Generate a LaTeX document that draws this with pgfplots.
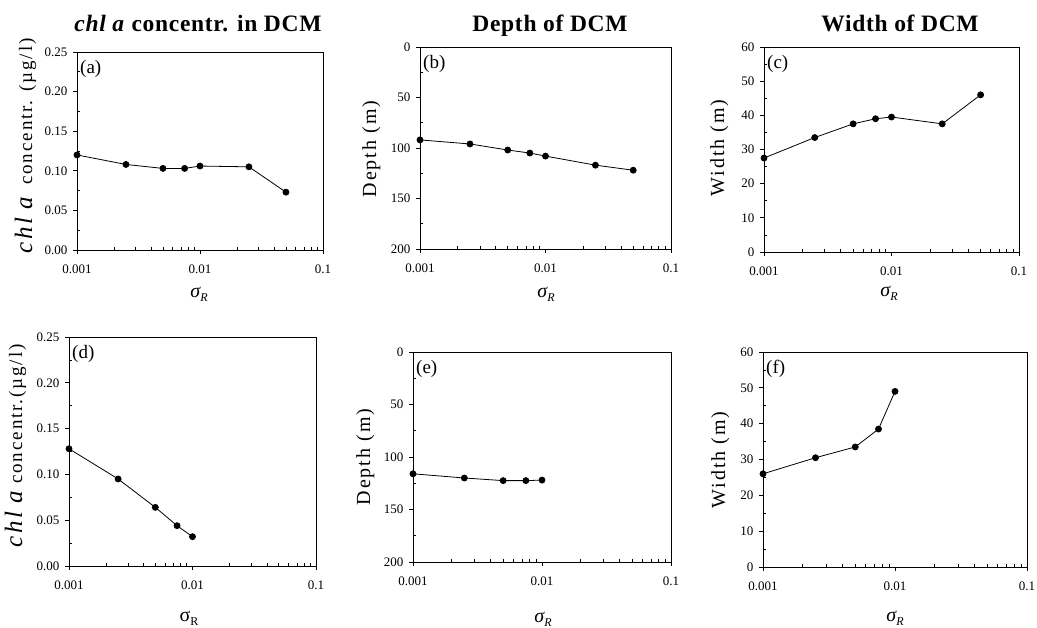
\documentclass[border=0pt]{standalone}
\usepackage{fontspec}
\setmainfont{Liberation Serif}
\newfontfamily\labfont[LetterSpace=10]{Liberation Serif}
\newfontfamily\titfont[LetterSpace=3]{Liberation Serif}
\usepackage{pgfplots}
\pgfplotsset{compat=1.18}
\pgfplotsset{every axis/.append style={
    scale only axis, anchor=south west,
    xmin=0.001, xmax=0.1,
    xtick={0.001,0.01,0.1}, xticklabels={0.001,0.01,0.1},
    minor xtick={0.002,0.003,0.004,0.005,0.006,0.007,0.008,0.009,0.02,0.03,0.04,0.05,0.06,0.07,0.08,0.09},
    tick align=outside, xtick pos=bottom, ytick pos=left,
    major tick length=4pt, minor tick length=-3pt,
    tick label style={font=\fontsize{13}{15}\selectfont},
    xticklabel style={yshift=-7pt},
    yticklabel style={xshift=-2pt},
    axis line style={line width=0.9pt, black},
    tick style={line width=0.7pt, black},
    clip=false,
    /pgf/number format/assume math mode=true,
  }}
\newcommand{\rminor}[5]{%
\begin{axis}[at={#1}, width=#2, height=#3, #4, hide x axis, axis line style={draw=none},
  /pgf/number format/assume math mode=false,
  ytick pos=right, tick align=inside, major tick length=0pt, minor tick length=3pt,
  ytick=\empty, minor ytick={#5}]
\end{axis}}
\newcommand{\sigR}{{\fontsize{20}{22}\selectfont\itshape σ}\raisebox{-4pt}{\fontsize{12}{14}\selectfont\itshape R}}
\newcommand{\sigRup}{{\fontsize{20}{22}\selectfont σ}\raisebox{-4pt}{\fontsize{12}{14}\selectfont R}}
\begin{document}
\begin{tikzpicture}
\useasboundingbox (0,0) rectangle (1037pt,628pt);
% ---- titles
\node[anchor=base, font=\fontsize{23.5}{26}\selectfont\titfont\bfseries] at (198pt,596pt) {\textit{chl a} concentr. in DCM};
\node[anchor=base, font=\fontsize{23.5}{26}\selectfont\titfont\bfseries] at (550pt,596pt) {Depth of DCM};
\node[anchor=base, font=\fontsize{23.5}{26}\selectfont\titfont\bfseries] at (900pt,596pt) {Width of DCM};

% ---- (a)
\begin{semilogxaxis}[at={(77pt,378pt)}, width=246pt, height=198pt,
  ymin=0, ymax=0.25, ytick={0,0.05,0.10,0.15,0.20,0.25}, minor y tick num=1,
  yticklabel style={/pgf/number format/fixed, /pgf/number format/fixed zerofill, /pgf/number format/precision=2}]
\addplot[black, line width=0.8pt, mark=*, mark size=3pt, mark options={fill=black, solid}] coordinates {(0.001,0.120) (0.0025,0.108) (0.005,0.103) (0.0075,0.103) (0.01,0.106) (0.025,0.105) (0.05,0.073)};
\node[anchor=north west, inner sep=0pt, xshift=3pt, yshift=-8pt, font=\fontsize{19}{20}\selectfont] at (rel axis cs:0,1) {(a)};
\end{semilogxaxis}
\rminor{(77pt,378pt)}{246pt}{198pt}{ymin=0,ymax=0.25}{0.025,0.075,0.125,0.175,0.225}
% ---- (b)
\begin{semilogxaxis}[at={(420pt,379pt)}, width=251pt, height=202pt,
  y dir=reverse, ymin=0, ymax=200, ytick={0,50,100,150,200}, minor y tick num=1]
\addplot[black, line width=0.8pt, mark=*, mark size=3pt, mark options={fill=black, solid}] coordinates {(0.001,92) (0.0025,96) (0.005,102) (0.0075,105) (0.01,108) (0.025,117) (0.05,122)};
\node[anchor=north west, inner sep=0pt, xshift=3pt, yshift=-8pt, font=\fontsize{19}{20}\selectfont] at (rel axis cs:0,1) {(b)};
\end{semilogxaxis}
\rminor{(420pt,379pt)}{251pt}{202pt}{ymin=0,ymax=200,y dir=reverse}{25,75,125,175}
% ---- (c)
\begin{semilogxaxis}[at={(764pt,376pt)}, width=255pt, height=205pt,
  ymin=0, ymax=60, ytick={0,10,20,30,40,50,60}, minor y tick num=1]
\addplot[black, line width=0.8pt, mark=*, mark size=3pt, mark options={fill=black, solid}] coordinates {(0.001,27.5) (0.0025,33.5) (0.005,37.5) (0.0075,39) (0.01,39.5) (0.025,37.5) (0.05,46)};
\node[anchor=north west, inner sep=0pt, xshift=3pt, yshift=-8pt, font=\fontsize{19}{20}\selectfont] at (rel axis cs:0,1) {(c)};
\end{semilogxaxis}
\rminor{(764pt,376pt)}{255pt}{205pt}{ymin=0,ymax=60}{5,15,25,35,45,55}
% ---- (d)
\begin{semilogxaxis}[at={(69pt,62pt)}, width=247pt, height=229pt,
  ymin=0, ymax=0.25, ytick={0,0.05,0.10,0.15,0.20,0.25}, minor y tick num=1,
  yticklabel style={/pgf/number format/fixed, /pgf/number format/fixed zerofill, /pgf/number format/precision=2}]
\addplot[black, line width=0.8pt, mark=*, mark size=3pt, mark options={fill=black, solid}] coordinates {(0.001,0.128) (0.0025,0.095) (0.005,0.064) (0.0075,0.044) (0.01,0.032)};
\node[anchor=north west, inner sep=0pt, xshift=3pt, yshift=-8pt, font=\fontsize{19}{20}\selectfont] at (rel axis cs:0,1) {(d)};
\end{semilogxaxis}
\rminor{(69pt,62pt)}{247pt}{229pt}{ymin=0,ymax=0.25}{0.025,0.075,0.125,0.175,0.225}
% ---- (e)
\begin{semilogxaxis}[at={(413pt,66pt)}, width=258pt, height=210pt,
  y dir=reverse, ymin=0, ymax=200, ytick={0,50,100,150,200}, minor y tick num=1]
\addplot[black, line width=0.8pt, mark=*, mark size=3pt, mark options={fill=black, solid}] coordinates {(0.001,116) (0.0025,120) (0.005,122.5) (0.0075,122.5) (0.01,122)};
\node[anchor=north west, inner sep=0pt, xshift=3pt, yshift=-8pt, font=\fontsize{19}{20}\selectfont] at (rel axis cs:0,1) {(e)};
\end{semilogxaxis}
\rminor{(413pt,66pt)}{258pt}{210pt}{ymin=0,ymax=200,y dir=reverse}{25,75,125,175}
% ---- (f)
\begin{semilogxaxis}[at={(763pt,61pt)}, width=264pt, height=215pt,
  ymin=0, ymax=60, ytick={0,10,20,30,40,50,60}, minor y tick num=1]
\addplot[black, line width=0.8pt, mark=*, mark size=3pt, mark options={fill=black, solid}] coordinates {(0.001,26) (0.0025,30.5) (0.005,33.5) (0.0075,38.5) (0.01,49)};
\node[anchor=north west, inner sep=0pt, xshift=3pt, yshift=-8pt, font=\fontsize{19}{20}\selectfont] at (rel axis cs:0,1) {(f)};
\end{semilogxaxis}
\rminor{(763pt,61pt)}{264pt}{215pt}{ymin=0,ymax=60}{5,15,25,35,45,55}

% ---- y labels
\node[rotate=90, anchor=base] at (32pt,482pt) {\labfont{\fontsize{25}{27}\selectfont\itshape chl a}\hspace{12pt}\fontsize{19}{21}\selectfont concentr. (µg/l)};
\node[rotate=90, anchor=base, font=\fontsize{20}{22}\selectfont\labfont] at (376pt,479pt) {Depth (m)};
\node[rotate=90, anchor=base, font=\fontsize{20}{22}\selectfont\labfont] at (724pt,480pt) {Width (m)};
\node[rotate=90, anchor=base] at (22pt,182pt) {\labfont{\fontsize{25}{27}\selectfont\itshape chl a}\hspace{7pt}\fontsize{19}{21}\selectfont concentr.(µg/l)};
\node[rotate=90, anchor=base, font=\fontsize{20}{22}\selectfont\labfont] at (370pt,171pt) {Depth (m)};
\node[rotate=90, anchor=base, font=\fontsize{20}{22}\selectfont\labfont] at (725pt,168pt) {Width (m)};

% ---- x labels
\node[anchor=base] at (199pt,330pt) {\sigR};
\node[anchor=base] at (546pt,330pt) {\sigR};
\node[anchor=base] at (889pt,331pt) {\sigR};
\node[anchor=base] at (189pt,6pt) {\sigRup};
\node[anchor=base] at (543pt,5pt) {\sigR};
\node[anchor=base] at (895pt,6pt) {\sigR};
\end{tikzpicture}
\end{document}
